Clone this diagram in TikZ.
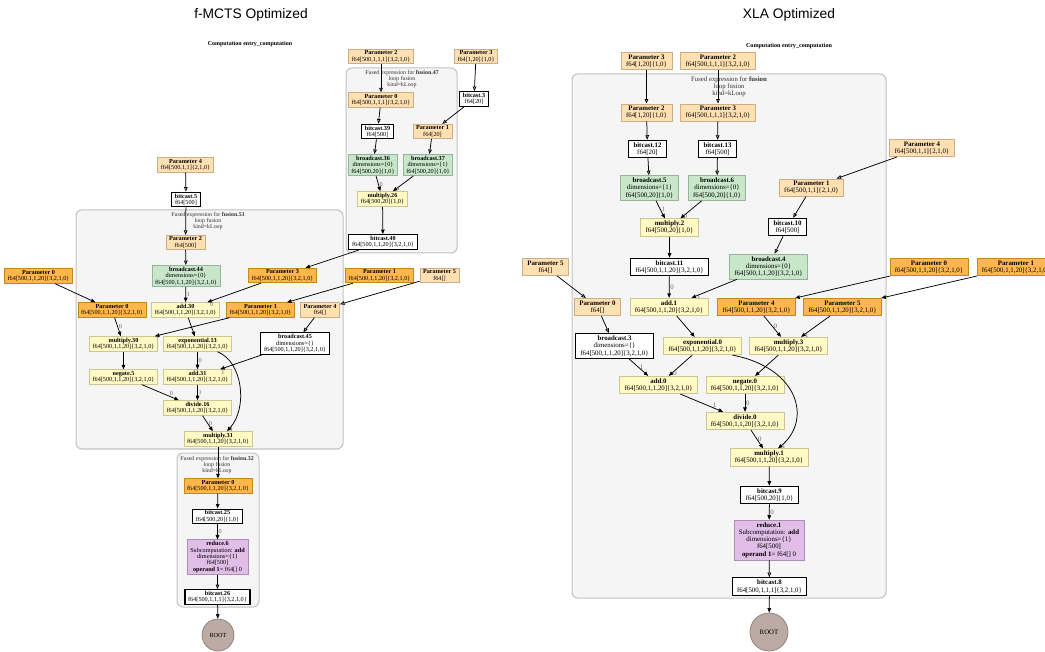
\documentclass[tikz,border=0pt]{standalone}
\usepackage{fontspec}
\setmainfont{Liberation Serif}
\newfontfamily\titlefont{Liberation Sans}
\usetikzlibrary{arrows.meta}

\definecolor{lofill}{HTML}{FFE0B2}\definecolor{lostroke}{HTML}{CBAE82}
\definecolor{dofill}{HTML}{FFB74D}\definecolor{dostroke}{HTML}{C88719}
\definecolor{grfill}{HTML}{C8E6C9}\definecolor{grstroke}{HTML}{97B498}
\definecolor{yefill}{HTML}{FFF9C4}\definecolor{yestroke}{HTML}{CBC693}
\definecolor{pufill}{HTML}{E1BEE7}\definecolor{pustroke}{HTML}{AF8EB5}
\definecolor{brfill}{HTML}{BCAAA4}\definecolor{brstroke}{HTML}{8C7B75}
\definecolor{clfill}{HTML}{F5F5F5}\definecolor{clstroke}{HTML}{C2C2C2}

\tikzset{
  box/.style={draw, rectangle, align=center, line width=0.7pt},
  plight/.style={box, fill=lofill, draw=lostroke},
  pdark/.style={box, fill=dofill, draw=dostroke},
  grn/.style={box, fill=grfill, draw=grstroke},
  yel/.style={box, fill=yefill, draw=yestroke},
  pur/.style={box, fill=pufill, draw=pustroke},
  wht/.style={box, fill=white, draw=black, line width=1.1pt},
  rootnode/.style={circle, draw=brstroke, fill=brfill, line width=0.7pt, inner sep=0pt},
  cluster/.style={draw=clstroke, fill=clfill, line width=1pt, rounded corners=6pt},
  clab/.style={align=center, text=black!80},
  ar/.style={line width=0.75pt, -{Triangle[length=4.5pt,width=3.6pt]}},
  arh/.style={line width=0.75pt, -{Triangle[open,length=4.5pt,width=3.6pt]}},
  lab/.style={text=black!60, inner sep=0.8pt},
  leftside/.style={every node/.append style={font=\fontsize{6.2}{6.4}\selectfont, inner xsep=3.2pt, inner ysep=1.6pt}},
  rightside/.style={every node/.append style={font=\fontsize{6.85}{7.3}\selectfont, inner xsep=5pt, inner ysep=2.2pt}},
  ttl/.style={font=\titlefont\fontsize{13.8}{16}\selectfont, anchor=base},
}

\begin{document}
\begin{tikzpicture}[x=1pt,y=-1pt]
\useasboundingbox[fill=white] (0,0) rectangle (1045,652);

\node[ttl] (L_title) at (251,19) {f-MCTS Optimized};
\node[ttl] (R_title) at (789,19) {XLA Optimized};

% ---------------- f-MCTS graph ----------------
\begin{scope}[leftside]
\draw[cluster] (346,68) rectangle (457,253);
\draw[cluster] (76,210) rectangle (343,449);
\draw[cluster] (177,453) rectangle (259,607);
\node[clab, font=\fontsize{5.9}{6.3}\selectfont] (L_c47) at (402,79) {Fused expression for \textbf{fusion.47}\\loop fusion\\kind=kLoop};
\node[clab, font=\fontsize{5.9}{6.3}\selectfont] (L_c51) at (208,221) {Fused expression for \textbf{fusion.51}\\loop fusion\\kind=kLoop};
\node[clab, font=\fontsize{5.9}{6.3}\selectfont] (L_c32) at (217,465) {Fused expression for \textbf{fusion.32}\\loop fusion\\kind=kLoop};
\node[font=\bfseries\fontsize{6}{7}\selectfont] (L_comp) at (250,44) {Computation entry\_computation};

\node[plight] (L_P2top) at (381,56.5) {\textbf{Parameter 2}\\f64[500,1,1,1]\{3,2,1,0\}};
\node[plight] (L_P3top) at (476,56.5) {\textbf{Parameter 3}\\f64[1,20]\{1,0\}};
\node[wht] (L_bc3) at (474,99) {\textbf{bitcast.3}\\f64[20]};
\node[plight] (L_P0f47) at (381,100) {\textbf{Parameter 0}\\f64[500,1,1,1]\{3,2,1,0\}};
\node[wht] (L_bc39) at (377.5,131.5) {\textbf{bitcast.39}\\f64[500]};
\node[plight] (L_P1f47) at (432.5,131.5) {\textbf{Parameter 1}\\f64[20]};
\node[grn] (L_br36) at (373,165) {\textbf{broadcast.36}\\dimensions=\{0\}\\f64[500,20]\{1,0\}};
\node[grn] (L_br37) at (428,165) {\textbf{broadcast.37}\\dimensions=\{1\}\\f64[500,20]\{1,0\}};
\node[yel] (L_mul26) at (382.5,199) {\textbf{multiply.26}\\f64[500,20]\{1,0\}};
\node[wht] (L_bc40) at (383,242) {\textbf{bitcast.40}\\f64[500,1,1,20]\{3,2,1,0\}};

\node[plight] (L_P4) at (185.5,165) {\textbf{Parameter 4}\\f64[500,1,1]\{2,1,0\}};
\node[wht] (L_bc5) at (186,199.5) {\textbf{bitcast.5}\\f64[500]};
\node[plight] (L_P2f51) at (185.5,242.5) {\textbf{Parameter 2}\\f64[500]};
\node[grn] (L_br44) at (186,276) {\textbf{broadcast.44}\\dimensions=\{0\}\\f64[500,1,1,20]\{3,2,1,0\}};
\node[pdark] (L_P0out) at (38.5,276) {\textbf{Parameter 0}\\f64[500,1,1,20]\{3,2,1,0\}};
\node[pdark] (L_P3) at (282.5,275.5) {\textbf{Parameter 3}\\f64[500,1,1,20]\{3,2,1,0\}};
\node[pdark] (L_P1out) at (379.5,275.5) {\textbf{Parameter 1}\\f64[500,1,1,20]\{3,2,1,0\}};
\node[plight] (L_P5) at (439.5,275.5) {\textbf{Parameter 5}\\f64[]};
\node[pdark] (L_P0in) at (112,310) {\textbf{Parameter 0}\\f64[500,1,1,20]\{3,2,1,0\}};
\node[yel] (L_add30) at (185.5,310) {\textbf{add.30}\\f64[500,1,1,20]\{3,2,1,0\}};
\node[pdark] (L_P1in) at (260.5,310) {\textbf{Parameter 1}\\f64[500,1,1,20]\{3,2,1,0\}};
\node[plight] (L_P4in) at (320,310) {\textbf{Parameter 4}\\f64[]};
\node[yel] (L_mul30) at (123.5,344) {\textbf{multiply.30}\\f64[500,1,1,20]\{3,2,1,0\}};
\node[yel] (L_exp13) at (197.5,344) {\textbf{exponential.13}\\f64[500,1,1,20]\{3,2,1,0\}};
\node[wht] (L_br45) at (295,343.5) {\textbf{broadcast.45}\\dimensions=\{\}\\f64[500,1,1,20]\{3,2,1,0\}};
\node[yel] (L_neg5) at (123.5,377) {\textbf{negate.5}\\f64[500,1,1,20]\{3,2,1,0\}};
\node[yel] (L_add31) at (197.5,377) {\textbf{add.31}\\f64[500,1,1,20]\{3,2,1,0\}};
\node[yel] (L_div16) at (197.5,408) {\textbf{divide.16}\\f64[500,1,1,20]\{3,2,1,0\}};
\node[yel] (L_mul31) at (218,439) {\textbf{multiply.31}\\f64[500,1,1,20]\{3,2,1,0\}};
\node[pdark] (L_P0f32) at (218,486) {\textbf{Parameter 0}\\f64[500,1,1,20]\{3,2,1,0\}};
\node[wht] (L_bc25) at (217.5,516.5) {\textbf{bitcast.25}\\f64[500,20]\{1,0\}};
\node[pur] (L_red6) at (217.5,557) {\textbf{reduce.6}\\Subcomputation: \textbf{add}\\dimensions=\{1\}\\f64[500]\\\textbf{operand 1}= f64[] 0};
\node[wht] (L_bc26) at (217.5,597) {\textbf{bitcast.26}\\f64[500,1,1,1]\{3,2,1,0\}};
\node[rootnode, minimum size=32pt] (L_root) at (218,635) {ROOT};

\draw[arh] (L_P3top) -- (L_bc3);
\draw[arh] (L_P2top) -- (L_P0f47);
\draw[arh] (L_P0f47) -- (L_bc39);
\draw[arh] (L_bc3) -- (L_P1f47);
\draw[arh] (L_bc39) -- (L_br36);
\draw[arh] (L_P1f47) -- (L_br37);
\draw[ar] (L_br36) -- node[lab, pos=0.55, anchor=west] {0} (L_mul26);
\draw[ar] (L_br37) -- node[lab, pos=0.85, anchor=west] {1} (L_mul26);
\draw[ar] (L_mul26) -- (L_bc40);
\draw[ar] (L_bc40) -- (L_P3);
\draw[arh] (L_P4) -- (L_bc5);
\draw[arh] (L_bc5) -- (L_P2f51);
\draw[arh] (L_P2f51) -- (L_br44);
\draw[ar] (L_br44) -- node[lab, pos=0.5, anchor=west] {1} (L_add30);
\draw[ar] (L_P3) -- node[lab, pos=0.97, anchor=north west] {0} (L_add30);
\draw[ar] (L_P0out) -- (L_P0in);
\draw[ar] (L_P1out) -- (L_P1in);
\draw[arh] (L_P5) -- (L_P4in);
\draw[ar] (L_P0in) -- node[lab, pos=0.5, anchor=west] {0} (L_mul30);
\draw[ar] (L_P1in) -- node[lab, pos=1, anchor=west] {1} (L_mul30);
\draw[ar] (L_add30) -- (L_exp13);
\draw[arh] (L_P4in) -- (L_br45);
\draw[ar] (L_mul30) -- (L_neg5);
\draw[ar] (L_exp13) -- node[lab, pos=0.5, anchor=west] {0} (L_add31);
\draw[ar] (L_br45) -- node[lab, pos=1, anchor=north west] {1} (L_add31);
\draw[ar] (L_neg5) -- node[lab, pos=0.8, anchor=south] {0} (L_div16);
\draw[ar] (L_add31) -- node[lab, pos=0.5, anchor=west] {1} (L_div16);
\draw[ar] (L_div16) -- node[lab, pos=0.5, anchor=west] {0} (L_mul31);
\draw[ar] ([xshift=20pt]L_exp13.south) .. controls +(25.5,10) and +(21,-23) .. node[lab, pos=0.97, anchor=west] {1} ([xshift=9pt]L_mul31.north);
\draw[ar] (L_mul31) -- (L_P0f32);
\draw[ar] (L_P0f32) -- (L_bc25);
\draw[ar] (L_bc25) -- node[lab, pos=0.5, anchor=west] {0} (L_red6);
\draw[arh] (L_red6) -- (L_bc26);
\draw[ar] (L_bc26) -- (L_root);
\end{scope}

% ---------------- XLA graph ----------------
\begin{scope}[rightside]
\draw[cluster] (572,74) rectangle (886,598);
\node[clab, font=\fontsize{6.75}{7.2}\selectfont] (R_cf) at (729,87) {Fused expression for \textbf{fusion}\\loop fusion\\kind=kLoop};
\node[font=\bfseries\fontsize{6.1}{7}\selectfont] (R_comp) at (789,46.5) {Computation entry\_computation};

\node[plight] (R_P3top) at (646.5,61) {\textbf{Parameter 3}\\f64[1,20]\{1,0\}};
\node[plight] (R_P2top) at (718,61) {\textbf{Parameter 2}\\f64[500,1,1,1]\{3,2,1,0\}};
\node[plight] (R_P2in) at (646.5,112.5) {\textbf{Parameter 2}\\f64[1,20]\{1,0\}};
\node[plight] (R_P3in) at (718,112.5) {\textbf{Parameter 3}\\f64[500,1,1,1]\{3,2,1,0\}};
\node[wht] (R_bc12) at (647.5,149) {\textbf{bitcast.12}\\f64[20]};
\node[wht] (R_bc13) at (717.5,149) {\textbf{bitcast.13}\\f64[500]};
\node[grn] (R_br5) at (649.5,188) {\textbf{broadcast.5}\\dimensions=\{1\}\\f64[500,20]\{1,0\}};
\node[grn] (R_br6) at (717,188) {\textbf{broadcast.6}\\dimensions=\{0\}\\f64[500,20]\{1,0\}};
\node[yel] (R_mul2) at (669.5,227.5) {\textbf{multiply.2}\\f64[500,20]\{1,0\}};
\node[wht] (R_bc11) at (669.5,267) {\textbf{bitcast.11}\\f64[500,1,1,20]\{3,2,1,0\}};
\node[plight] (R_P4out) at (922,148) {\textbf{Parameter 4}\\f64[500,1,1]\{2,1,0\}};
\node[plight] (R_P1in) at (811.5,187.5) {\textbf{Parameter 1}\\f64[500,1,1]\{2,1,0\}};
\node[wht] (R_bc10) at (787.5,227) {\textbf{bitcast.10}\\f64[500]};
\node[grn] (R_br4) at (768.5,266.5) {\textbf{broadcast.4}\\dimensions=\{0\}\\f64[500,1,1,20]\{3,2,1,0\}};
\node[plight] (R_P5out) at (545.5,267) {\textbf{Parameter 5}\\f64[]};
\node[pdark] (R_P0out) at (929,267) {\textbf{Parameter 0}\\f64[500,1,1,20]\{3,2,1,0\}};
\node[pdark] (R_P1out) at (1016,267) {\textbf{Parameter 1}\\f64[500,1,1,20]\{3,2,1,0\}};
\node[plight] (R_P0in) at (597.5,307) {\textbf{Parameter 0}\\f64[]};
\node[yel] (R_add1) at (669,307) {\textbf{add.1}\\f64[500,1,1,20]\{3,2,1,0\}};
\node[pdark] (R_P4in) at (756.5,307) {\textbf{Parameter 4}\\f64[500,1,1,20]\{3,2,1,0\}};
\node[pdark] (R_P5in) at (842.5,307) {\textbf{Parameter 5}\\f64[500,1,1,20]\{3,2,1,0\}};
\node[wht] (R_br3) at (614.5,346) {\textbf{broadcast.3}\\dimensions=\{\}\\f64[500,1,1,20]\{3,2,1,0\}};
\node[yel] (R_exp0) at (702.5,346) {\textbf{exponential.0}\\f64[500,1,1,20]\{3,2,1,0\}};
\node[yel] (R_mul3) at (788.5,346) {\textbf{multiply.3}\\f64[500,1,1,20]\{3,2,1,0\}};
\node[yel] (R_add0) at (658.5,385) {\textbf{add.0}\\f64[500,1,1,20]\{3,2,1,0\}};
\node[yel] (R_neg0) at (745,385) {\textbf{negate.0}\\f64[500,1,1,20]\{3,2,1,0\}};
\node[yel] (R_div0) at (745,421) {\textbf{divide.0}\\f64[500,1,1,20]\{3,2,1,0\}};
\node[yel] (R_mul1) at (769,457.5) {\textbf{multiply.1}\\f64[500,1,1,20]\{3,2,1,0\}};
\node[wht] (R_bc9) at (769.5,495) {\textbf{bitcast.9}\\f64[500,20]\{1,0\}};
\node[pur] (R_red1) at (769,540) {\textbf{reduce.1}\\Subcomputation: \textbf{add}\\dimensions=\{1\}\\f64[500]\\\textbf{operand 1}= f64[] 0};
\node[wht] (R_bc8) at (769.5,586.5) {\textbf{bitcast.8}\\f64[500,1,1,1]\{3,2,1,0\}};
\node[rootnode, minimum size=38pt] (R_root) at (769,632) {ROOT};

\draw[arh] (R_P3top) -- (R_P2in);
\draw[arh] (R_P2top) -- (R_P3in);
\draw[arh] (R_P2in) -- (R_bc12);
\draw[arh] (R_P3in) -- (R_bc13);
\draw[arh] (R_bc12) -- (R_br5);
\draw[arh] (R_bc13) -- (R_br6);
\draw[ar] (R_br5) -- node[lab, pos=0.5, anchor=west] {1} (R_mul2);
\draw[ar] (R_br6) -- node[lab, pos=0.9, anchor=west] {0} (R_mul2);
\draw[ar] (R_mul2) -- (R_bc11);
\draw[ar] (R_bc11) -- node[lab, pos=0.5, anchor=west] {0} (R_add1);
\draw[arh] (R_P4out) -- (R_P1in);
\draw[arh] (R_P1in) -- (R_bc10);
\draw[arh] (R_bc10) -- (R_br4);
\draw[ar] (R_br4) -- node[lab, pos=0.9, anchor=west] {1} (R_add1);
\draw[arh] (R_P5out) -- (R_P0in);
\draw[arh] (R_P0in) -- (R_br3);
\draw[ar] (R_P0out) -- (R_P4in);
\draw[ar] (R_P1out) -- (R_P5in);
\draw[ar] (R_add1) -- (R_exp0);
\draw[ar] (R_P4in) -- node[lab, pos=0.5, anchor=west] {0} (R_mul3);
\draw[ar] (R_P5in) -- node[lab, pos=0.9, anchor=west] {1} (R_mul3);
\draw[ar] (R_br3) -- node[lab, pos=0.5, anchor=west] {1} (R_add0);
\draw[ar] (R_exp0) -- node[lab, pos=0.85, anchor=west] {0} (R_add0);
\draw[ar] (R_mul3) -- (R_neg0);
\draw[ar] (R_add0) -- node[lab, pos=0.8, anchor=south] {1} (R_div0);
\draw[ar] (R_neg0) -- node[lab, pos=0.5, anchor=west] {0} (R_div0);
\draw[ar] (R_div0) -- node[lab, pos=0.5, anchor=west] {0} (R_mul1);
\draw[ar] ([xshift=30pt]R_exp0.south) .. controls +(67,13) and +(34,-28) .. node[lab, pos=0.97, anchor=west] {1} ([xshift=9pt]R_mul1.north);
\draw[ar] (R_mul1) -- (R_bc9);
\draw[ar] (R_bc9) -- node[lab, pos=0.5, anchor=west] {0} (R_red1);
\draw[arh] (R_red1) -- (R_bc8);
\draw[ar] (R_bc8) -- (R_root);
\end{scope}
\end{tikzpicture}
\end{document}
